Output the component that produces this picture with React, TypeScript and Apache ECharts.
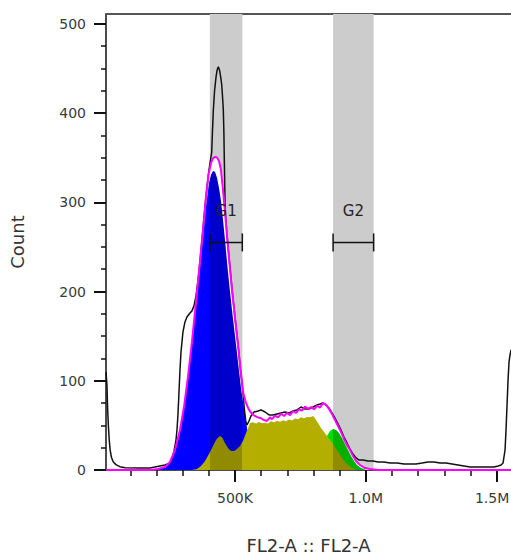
import React, { useEffect, useRef } from 'react';
import * as echarts from 'echarts';

// ---- axis ticks (x in thousands) ----
const xTickValues = [500, 1000, 1500];
const xTickLabels = ['500K', '1.0M', '1.5M'];
const xMinorTicks = [100, 200, 300, 400, 600, 700, 800, 900, 1100, 1200, 1300, 1400];
const yTickValues = [0, 100, 200, 300, 400, 500];
const yMinorTicks = [25, 50, 75, 125, 150, 175, 225, 250, 275, 325, 350, 375, 425, 450, 475];

// ---- gates ----
const gateNames = ['G1', 'G2'];
const gateLow = [404, 875];
const gateHigh = [528, 1030];
const gateBarCount = 255;
const gateLabelCount = 290;

// ---- measured histogram (FL2-A in K, count) ----
const totalCounts: [number, number][] = [
  [7, 110], [10.7, 95], [13, 70], [16, 50], [19.5, 33], [23, 22], [28, 14], [35, 9], [45, 6], [60, 3.7],
  [80, 2.5], [137, 2.2], [175, 2.2], [194, 3.4], [213, 4.5], [232, 5.6], [252, 7.8], [259, 12.3], [267, 21.3],
  [274.5, 33.6], [278.3, 44.8], [282, 61.7], [286, 87.4], [289.8, 112], [293.6, 132], [297.4, 143.5],
  [301.2, 154.7], [308.9, 165.9], [316.5, 171.5], [328, 176], [335.6, 178.3], [343.3, 183.9], [350.9, 195.1],
  [358.6, 212], [366.2, 234], [377.7, 270], [389.1, 306], [398.7, 332], [405, 345], [411, 356], [414, 380],
  [417.4, 404], [422, 425], [427.4, 440], [431.5, 448], [436.2, 452], [441, 448], [445, 441], [449.2, 432],
  [452.5, 418], [455.3, 404], [457.5, 380], [459.1, 350], [462.5, 292], [469.5, 263], [477.1, 239],
  [488.6, 203], [500.1, 171], [511.5, 141], [523, 107], [530, 88], [536, 68], [541, 55], [546, 50.4],
  [553.6, 54.9], [561.2, 60.5], [572.7, 65], [588, 66.1], [599.5, 67.3], [614.8, 65], [630.1, 61.7],
  [645.3, 61.7], [660.6, 62.8], [675.9, 63.9], [691.2, 65], [706.5, 63.9], [721.8, 66.1], [737.1, 67.3],
  [752.3, 70.6], [767.6, 68.4], [782.9, 68.4], [798.2, 70.6], [813.5, 72.9], [825, 74], [836.4, 75.1],
  [847.9, 72.9], [859.4, 69.5], [870.8, 63.9], [882.3, 58.3], [893.8, 51.6], [905.3, 44.8], [916.7, 37],
  [928.2, 30.3], [939.7, 23.5], [951.2, 17.9], [962.6, 13.5], [974.1, 11.2], [989.4, 11.2], [1008.5, 10.1],
  [1027.6, 10.1], [1046.7, 9], [1069.7, 9], [1092.6, 7.8], [1119.4, 7.8], [1146.1, 6.7], [1169.1, 6.7],
  [1192, 6.7], [1214.9, 7.8], [1237.9, 9], [1260.8, 9], [1283.7, 7.8], [1306.7, 7.8], [1329.6, 6.7],
  [1352.5, 5.6], [1375.5, 4.5], [1398.4, 3.4], [1421.3, 3.4], [1444.3, 3.4], [1467.2, 3.4], [1490.1, 3.4],
  [1505.5, 4.5], [1517, 5.6], [1524.6, 7.8], [1532.2, 22.4], [1536, 44.8], [1539.9, 72.9], [1543.7, 100.9],
  [1547.5, 121.1], [1551.3, 128.9], [1555, 134.5],
];

// ---- cell-cycle model: sum of components ----
const fitSum: [number, number][] = [
  [7, 0], [175.1, 0], [205.7, 1.1], [232.4, 3.4], [251.6, 9], [270.7, 22.4], [289.8, 44.8], [305.1, 70.6],
  [320.4, 104.3], [335.6, 143.5], [350.9, 188.3], [366.2, 233.2], [377.7, 269.1], [389.1, 306.1],
  [398.7, 330.7], [408.3, 344.2], [416, 349.2], [423.5, 350.9], [431.2, 350.3], [438.9, 346.4],
  [446.5, 336.3], [454.2, 313.9], [461.8, 289.2], [469.5, 262.3], [477.1, 237.7], [488.6, 201.8],
  [500.1, 170.4], [511.5, 140.1], [523, 107.6], [531.8, 86.3], [542.1, 75.1], [553.6, 67.3], [565, 63],
  [576.5, 60.5], [588, 59], [599.5, 58], [610.9, 56], [622.4, 55], [633.9, 59], [641.5, 57],
  [653, 61], [664.5, 59], [675.9, 63], [687.4, 60.5], [698.9, 64], [710.3, 61.5], [721.8, 66],
  [733.3, 64], [744.8, 68], [756.2, 66.5], [767.7, 71], [779.2, 68.5], [790.6, 70.5], [802.1, 68],
  [813.6, 72], [825, 70], [836.5, 75], [848, 73], [859.4, 68.4], [870.9, 62.8], [882.3, 56.1],
  [893.8, 49.3], [905.3, 42.6], [916.7, 34.8], [928.2, 28], [939.7, 22.4], [951.2, 15.7], [962.6, 10.1],
  [977.9, 5.6], [997, 2.2], [1016.1, 1.1], [1046.7, 0], [1555, 0],
];

// ---- G1 component ----
const fitG1: [number, number][] = [
  [175.1, 0], [205.7, 1.1], [232.4, 2.8], [251.6, 7.8], [270.7, 21.3], [289.8, 42.6], [305.1, 68.4],
  [320.4, 100.9], [335.6, 139], [350.9, 182.7], [366.2, 226.5], [377.7, 260.1], [389.1, 294.8],
  [400.6, 321.7], [408.3, 330.7], [416, 335.2], [423.5, 334.1], [431.2, 327.4], [438.9, 316.1],
  [446.5, 301.6], [454.2, 280.3], [461.8, 257.8], [469.5, 233.2], [477.1, 210.8], [488.6, 179.4],
  [500.1, 150.2], [511.5, 121.1], [523, 91.9], [532.6, 72.9], [540.2, 60.5], [545.9, 47.1], [551.6, 33.6],
  [557.4, 20.2], [568.9, 7.8], [588, 2.2], [614.8, 0],
];

// ---- S component ----
const fitS: [number, number][] = [
  [335.6, 0], [354.8, 1.1], [370.1, 4.5], [385.4, 10.1], [400.6, 17.9], [416, 26.9], [427.4, 33.6],
  [437, 37], [444.6, 38.1], [452.3, 35.9], [461.8, 30.3], [473.3, 24.7], [484.8, 21.3], [496.2, 21.3],
  [507.7, 23.5], [519.2, 26.9], [530.6, 32.5], [542.1, 41.5], [549.8, 47.1], [557.4, 52.7], [568.9, 53.5],
  [580.3, 52], [591.8, 53.8], [603.3, 52.5], [614.8, 53], [626.2, 52.2], [637.7, 54.5], [649.2, 53.5],
  [660.6, 55.2], [672.1, 54], [683.6, 55.8], [695.1, 54.6], [706.5, 56.5], [718, 55.5], [729.5, 57.8],
  [741, 57], [752.4, 59], [763.9, 58], [775.4, 59.5], [786.8, 59], [798.3, 60.5], [807.9, 57.2],
  [817.4, 52.7], [828.9, 47.1], [840.4, 42.6], [851.9, 38.1], [863.3, 33.6], [874.8, 29.1], [886.3, 23.5],
  [897.7, 19.1], [909.2, 13.5], [920.7, 9], [932.2, 5.6], [947.5, 2.2], [962.8, 0],
];

// ---- G2 component ----
const fitG2: [number, number][] = [
  [767.7, 0], [786.8, 3.4], [805.9, 10.1], [825, 20.2], [840.4, 30.3], [851.9, 38.1], [863.3, 43.7],
  [874.8, 46], [886.3, 44.8], [897.7, 41.5], [909.2, 35.9], [920.7, 29.1], [932.2, 22.4], [943.6, 15.7],
  [955.1, 10.1], [966.6, 5.6], [981.9, 2.2], [1001, 0],
];

const FONT = '"DejaVu Sans", Verdana, sans-serif';

function bandPieces(normal: string, dark: string) {
  return [
    { lt: gateLow[0], color: normal },
    { gte: gateLow[0], lte: gateHigh[0], color: dark },
    { gt: gateHigh[0], lt: gateLow[1], color: normal },
    { gte: gateLow[1], lte: gateHigh[1], color: dark },
    { gt: gateHigh[1], color: normal },
  ];
}

export default function App() {
  const ref = useRef<HTMLDivElement>(null);
  useEffect(() => {
    if (!ref.current) return;
    const chart = echarts.init(ref.current, null, { renderer: 'svg' });
    const xMin = 7;
    const xMax = 1555;
    const yMin = 0;
    const yMax = 511;
    const lastTick = xTickValues.length - 1;
    chart.setOption({
      animation: false,
      textStyle: { fontFamily: FONT },
      grid: { left: 106, right: 0, top: 14, bottom: 86, containLabel: false, outerBoundsMode: 'none' },
      xAxis: [
        {
          type: 'value', min: xMin, max: xMax, position: 'bottom',
          name: 'FL2-A :: FL2-A', nameLocation: 'middle', nameGap: 66,
          nameTextStyle: { fontSize: 18, color: '#333', fontFamily: FONT },
          axisLine: { show: true, lineStyle: { color: '#111', width: 1.5 } },
          axisTick: { show: true, customValues: xTickValues, length: 12, lineStyle: { color: '#111', width: 2 } },
          axisLabel: {
            customValues: xTickValues, fontSize: 14, color: '#3a3a3a', margin: 21, fontFamily: FONT,
            formatter: (v: number) => {
              const i = xTickValues.indexOf(v);
              if (i < 0) return '';
              return i === lastTick ? `{edge|${xTickLabels[i]}}` : xTickLabels[i];
            },
            rich: { edge: { fontSize: 14, color: '#3a3a3a', fontFamily: FONT, padding: [0, 9, 0, 0] } },
          },
          splitLine: { show: false },
        },
        {
          type: 'value', min: xMin, max: xMax, position: 'bottom',
          axisLine: { show: false },
          axisTick: { show: true, customValues: xMinorTicks, length: 6, lineStyle: { color: '#111', width: 1.5 } },
          axisLabel: { show: false },
          splitLine: { show: false },
        },
        {
          type: 'value', min: xMin, max: xMax, position: 'top',
          axisLine: { show: true, lineStyle: { color: '#555', width: 2 } },
          axisTick: { show: false },
          axisLabel: { show: false },
          splitLine: { show: false },
        },
      ],
      yAxis: [
        {
          type: 'value', min: yMin, max: yMax, position: 'left',
          name: 'Count', nameLocation: 'middle', nameGap: 80,
          nameTextStyle: { fontSize: 18, color: '#333', fontFamily: FONT },
          axisLine: { show: true, lineStyle: { color: '#111', width: 1.5 } },
          axisTick: { show: true, customValues: yTickValues, length: 12, lineStyle: { color: '#111', width: 2 } },
          axisLabel: { customValues: yTickValues, fontSize: 14, color: '#3a3a3a', margin: 20, fontFamily: FONT },
          splitLine: { show: false },
        },
        {
          type: 'value', min: yMin, max: yMax, position: 'left',
          axisLine: { show: false },
          axisTick: { show: true, customValues: yMinorTicks, length: 5, lineStyle: { color: '#111', width: 1.5 } },
          axisLabel: { show: false },
          splitLine: { show: false },
        },
      ],
      visualMap: [
        { type: 'piecewise', show: false, dimension: 0, seriesIndex: 1, pieces: bandPieces('#0000ff', '#0000cc') },
        { type: 'piecewise', show: false, dimension: 0, seriesIndex: 2, pieces: bandPieces('#00dd00', '#00b100') },
        { type: 'piecewise', show: false, dimension: 0, seriesIndex: 3, pieces: bandPieces('#b4ae00', '#908b00') },
      ],
      series: [
        {
          name: 'sumFill', type: 'line', data: fitSum, showSymbol: false, z: 2, silent: true,
          lineStyle: { width: 0 }, areaStyle: { color: '#ffffff', opacity: 1 },
          markArea: {
            silent: true,
            itemStyle: { color: '#cccccc' },
            data: gateLow.map((lo, i) => [{ xAxis: lo }, { xAxis: gateHigh[i] }]),
          },
        },
        { name: 'G1', type: 'line', data: fitG1, showSymbol: false, z: 3, silent: true, lineStyle: { width: 0 }, areaStyle: { opacity: 1 } },
        { name: 'G2', type: 'line', data: fitG2, showSymbol: false, z: 3, silent: true, lineStyle: { width: 0 }, areaStyle: { opacity: 1 } },
        { name: 'S', type: 'line', data: fitS, showSymbol: false, z: 4, silent: true, lineStyle: { width: 0 }, areaStyle: { opacity: 1 } },
        { name: 'FL2-A', type: 'line', data: totalCounts, showSymbol: false, z: 5, silent: true, lineStyle: { color: '#111', width: 1.5 } },
        { name: 'Model', type: 'line', data: fitSum, showSymbol: false, z: 6, silent: true, lineStyle: { color: '#ff00ff', width: 2 } },
        {
          name: 'gates', type: 'custom', z: 7, silent: true,
          data: gateNames.map((_, i) => [gateLow[i], gateHigh[i], gateBarCount, gateLabelCount]),
          encode: { x: [0, 1], y: [2, 3] },
          renderItem: (params: any, api: any) => {
            const a = api.coord([api.value(0), api.value(2)]);
            const b = api.coord([api.value(1), api.value(2)]);
            const t = api.coord([(api.value(0) + api.value(1)) / 2, api.value(3)]);
            const stroke = { stroke: '#111', lineWidth: 1.5 };
            return {
              type: 'group',
              children: [
                { type: 'line', shape: { x1: a[0], y1: a[1], x2: b[0], y2: b[1] }, style: stroke },
                { type: 'line', shape: { x1: a[0], y1: a[1] - 9, x2: a[0], y2: a[1] + 9 }, style: stroke },
                { type: 'line', shape: { x1: b[0], y1: b[1] - 9, x2: b[0], y2: b[1] + 9 }, style: stroke },
                {
                  type: 'text', x: t[0], y: t[1],
                  style: {
                    text: gateNames[params.dataIndex], fill: '#222', font: `15px ${FONT}`,
                    textAlign: 'center', textVerticalAlign: 'middle', align: 'center', verticalAlign: 'middle',
                  },
                },
              ],
            };
          },
        },
      ],
    });
    return () => chart.dispose();
  }, []);
  return <div ref={ref} style={{ position: 'fixed', left: 0, top: 0, width: 511, height: 556, background: '#fff' }} />;
}
